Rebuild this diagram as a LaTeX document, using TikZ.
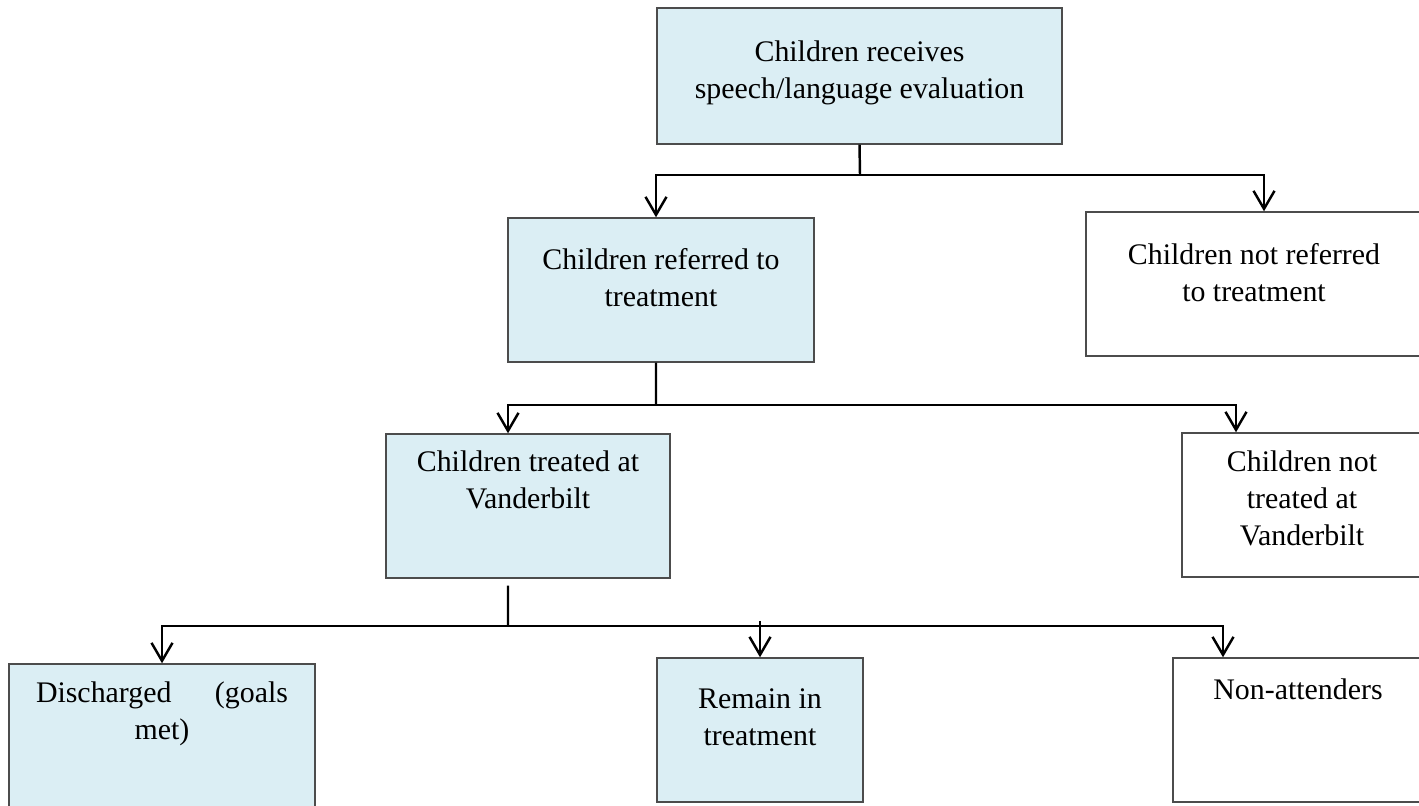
\documentclass[tikz,border=0pt]{standalone}
\usepackage{fontspec}
\setmainfont{Liberation Serif}
\usetikzlibrary{positioning, arrows.meta}
\definecolor{paleblue}{RGB}{219,238,244}

\begin{document}
\begin{tikzpicture}[
        box/.style={draw=black!70, line width=0.8pt, inner sep=0pt},
        shaded/.style={box, fill=paleblue},
        txt/.style={align=center, inner sep=0pt, font=\fontsize{17}{21}\selectfont},
        link/.style={line width=1.4pt},
        arr/.style={link, -{Straight Barb[length=0.36cm, width=0.42cm]}}]
        \useasboundingbox (0,0) rectangle (28.38,16.12);
        % boxes
        \node[shaded, minimum width=8.10cm, minimum height=2.72cm] (eval) at (17.19,14.60) {};
        \node[shaded, minimum width=6.12cm, minimum height=2.88cm] (referred) at (13.22,10.32) {};
        \node[box, minimum width=6.72cm, minimum height=2.88cm] (notref) at (25.08,10.44) {};
        \node[shaded, minimum width=5.68cm, minimum height=2.88cm] (vander) at (10.56,6.00) {};
        \node[box, minimum width=4.80cm, minimum height=2.88cm] (nottreated) at (26.04,6.02) {};
        \node[shaded, minimum width=6.12cm, minimum height=2.88cm] (discharged) at (3.24,1.40) {};
        \node[shaded, minimum width=4.12cm, minimum height=2.88cm] (remain) at (15.20,1.52) {};
        \node[box, minimum width=5.00cm, minimum height=2.88cm] (nonatt) at (25.96,1.52) {};
        % texts
        \node[txt, below=0.66cm of eval.north] (evaltxt) {Children receives\\speech/language evaluation};
        \node[txt, below=0.62cm of referred.north] (referredtxt) {Children referred to\\treatment};
        \node[txt, below=0.64cm of notref.north] (notreftxt) {Children not referred\\to treatment};
        \node[txt, below=0.34cm of vander.north] (vandertxt) {Children treated at\\Vanderbilt};
        \node[txt, below=0.36cm of nottreated.north] (nottreatedtxt) {Children not\\treated at\\Vanderbilt};
        \node[txt, below=0.36cm of discharged.north] (dischargedtxt) {\makebox[5.04cm][s]{Discharged (goals}\\met)};
        \node[txt, below=0.62cm of remain.north] (remaintxt) {Remain in\\treatment};
        \node[txt, below=0.42cm of nonatt.north] (nonatttxt) {Non-attenders};
        % junctions
        \coordinate (j1) at (17.20,12.62);
        \coordinate (j2) at (13.12,8.02);
        \coordinate (j3) at (10.16,3.60);
        % connectors
        \draw[link] (eval.south) -- (j1);
        \draw[arr] (j1) -| ([xshift=-1mm]referred.north);
        \draw[arr] (j1) -| ([xshift=2mm]notref.north);
        \draw[link] ([xshift=-1mm]referred.south) -- (j2);
        \draw[arr] (j2) -| ([xshift=-4mm]vander.north);
        \draw[arr] (j2) -| ([xshift=-13.2mm]nottreated.north);
        \draw[link] ([xshift=-4mm, yshift=-1.4mm]vander.south) -- (j3);
        \draw[arr] (j3) -| (discharged.north);
        \draw[arr] (j3) -| ([xshift=-15mm]nonatt.north);
        \draw[arr] ([yshift=1mm]j3 -| remain.north) -- (remain.north);
\end{tikzpicture}
\end{document}
